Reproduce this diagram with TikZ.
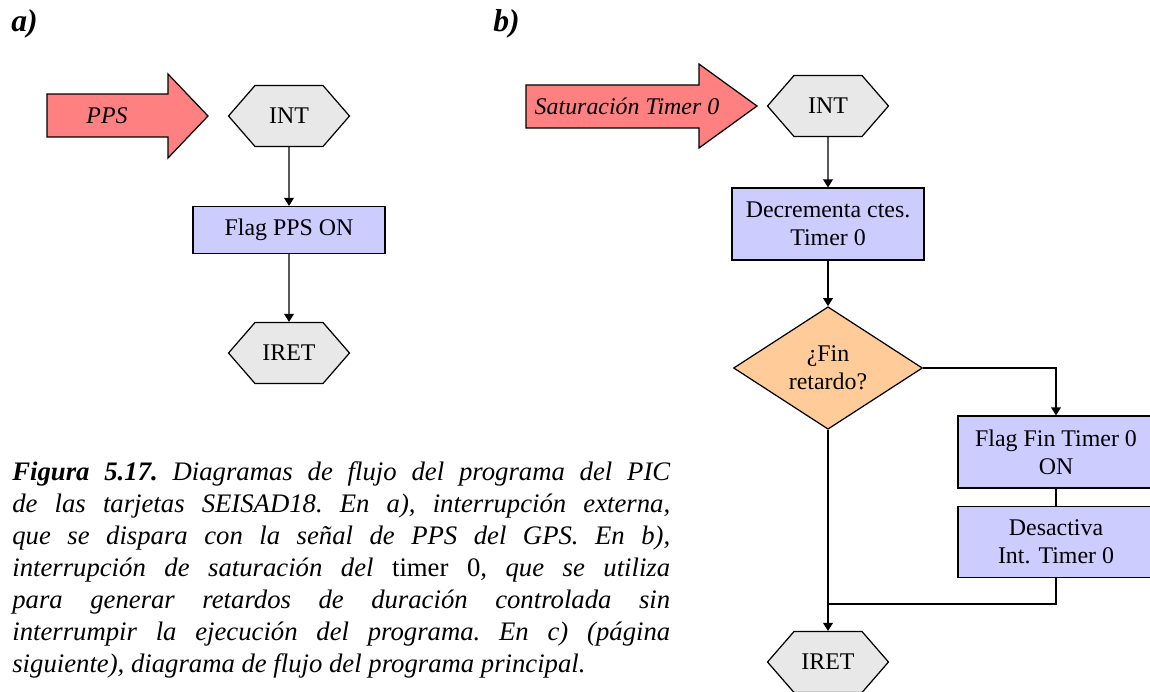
\documentclass[tikz,border=0pt]{standalone}
\usepackage{fontspec}
\setmainfont{Liberation Serif}
\newfontfamily\flowfam{Liberation Serif}
\usetikzlibrary{arrows.meta,positioning,shapes.geometric,shapes.symbols}

\definecolor{hexgray}{RGB}{232,232,232}
\definecolor{boxblue}{RGB}{204,204,255}
\definecolor{decorange}{RGB}{255,204,153}
\definecolor{arrred}{RGB}{255,128,128}

\newcommand{\flowfont}{\flowfam\fontsize{13.6}{16}\selectfont}

\begin{document}
\begin{tikzpicture}[
    x=0.02cm, y=-0.02cm,
    hexa/.style={draw, fill=hexgray, signal, signal to=east and west, signal pointer angle=98, minimum width=2.42cm, minimum height=1.22cm, inner sep=0pt, line width=0.7pt, font=\flowfont},
    proc/.style={draw, fill=boxblue, minimum width=3.84cm, inner sep=0pt, align=center, line width=0.7pt, font=\flowfont},
    decis/.style={draw, fill=decorange, diamond, minimum width=3.78cm, minimum height=2.14cm, inner sep=0pt, align=center, line width=0.7pt, font=\flowfont},
    bigarr/.style={draw, fill=arrred, line width=0.7pt},
    arr/.style={-{Triangle[length=4.5pt,width=5.5pt]}, line width=0.6pt},
    lin/.style={line width=0.6pt},
    sublbl/.style={anchor=west, inner sep=0pt, font=\fontsize{18}{20}\selectfont\bfseries\itshape},
  ]
  \useasboundingbox (0,0) rectangle (1150,691);

  \node[sublbl] (lbla) at (11,24) {a)};
  \node[sublbl] (lblb) at (493,24) {b)};

  % a) interrupcion externa
  \draw[bigarr] (47,94) -- (168,94) -- (168,74) -- (208,116) -- (168,158) -- (168,137) -- (47,137) -- cycle;
  \node[font=\flowfont\itshape] (ppsin) at (107,116) {PPS};
  \node[hexa] (inta) at (289,116) {INT};
  \node[proc, minimum height=0.94cm] (flagpps) at (289,230) {Flag PPS ON};
  \node[hexa] (ireta) at (289,353) {IRET};

  \draw[arr] (inta) -- (flagpps);
  \draw[arr] (flagpps) -- (ireta);

  % b) interrupcion timer 0
  \draw[bigarr] (526,85) -- (699,85) -- (699,64) -- (757,106) -- (699,148) -- (699,128) -- (526,128) -- cycle;
  \node[font=\flowfont\itshape] (satin) at (627,106) {Saturación Timer 0};
  \node[hexa] (intb) at (828,106) {INT};
  \node[proc, minimum height=1.44cm] (decr) at (828,224) {Decrementa ctes.\\Timer 0};
  \node[decis] (fin) at (828,368) {¿Fin\\retardo?};
  \node[proc, minimum width=3.92cm, minimum height=1.44cm] (flagfin) at (1056,452) {Flag Fin Timer 0\\ON};
  \node[proc, minimum width=3.92cm, minimum height=1.42cm] (desact) at (1056,542) {Desactiva\\Int. Timer 0};
  \node[hexa] (iretb) at (828,662) {IRET};
  \coordinate (merge) at (828,604);

  \draw[arr] (intb) -- (decr);
  \draw[arr] (decr) -- (fin);
  \draw[arr] (fin.east) -| (flagfin.north);
  \draw[lin] (flagfin) -- (desact);
  \draw[lin] (desact.south) |- (merge);
  \draw[arr] (fin.south) -- (iretb.north);

  % pie de figura
  \node[anchor=north west, inner sep=0pt, text width=13.16cm, align=justify, font=\fontsize{15.2}{18.2}\selectfont\itshape\frenchspacing] (caption) at (12,461)
    {\textbf{Figura 5.17.} Diagramas de flujo del programa del PIC\linebreak
     de las tarjetas SEISAD18. En a), interrupción externa,\linebreak
     que se dispara con la señal de PPS del GPS. En b),\linebreak
     interrupción de saturación del \textup{timer 0}, que se utiliza\linebreak
     para generar retardos de duración controlada sin\linebreak
     interrumpir la ejecución del programa. En c) (página\linebreak
     siguiente), diagrama de flujo del programa principal.};
\end{tikzpicture}
\end{document}
